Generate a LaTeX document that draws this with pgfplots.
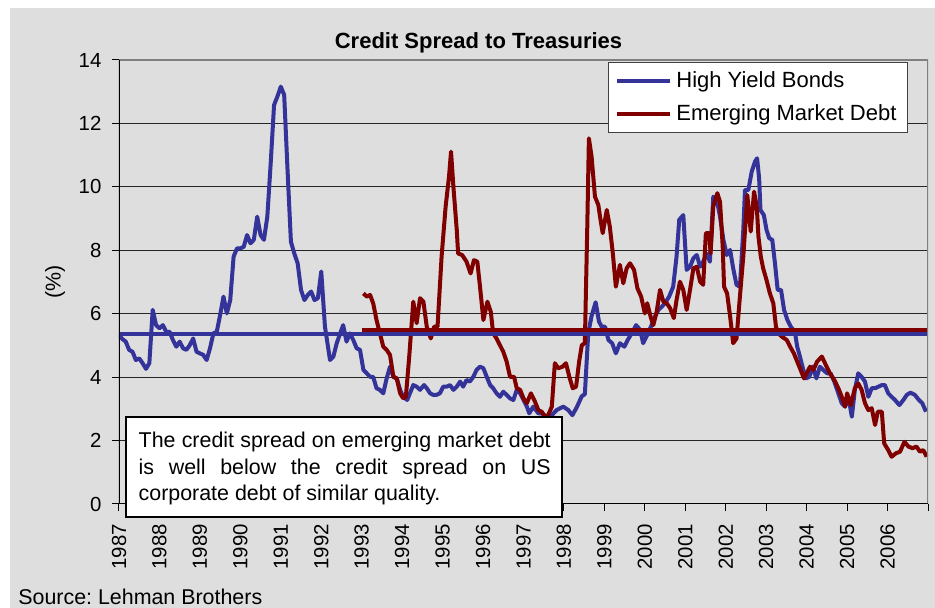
\documentclass[border=0pt]{standalone}
\usepackage{pgfplots}
\pgfplotsset{compat=1.18}
\usepackage{fontspec}
\setmainfont{Liberation Sans}
\frenchspacing
\definecolor{bggray}{RGB}{222,222,222}
\definecolor{hyblue}{RGB}{51,51,153}
\definecolor{emred}{RGB}{128,0,0}
\begin{document}
\begin{tikzpicture}[x=1pt,y=1pt]
\fill[white] (-59.5,-52) rectangle (408,252);
\fill[bggray] (-54.5,-52) rectangle (408,248);
\begin{axis}[
  scale only axis, width=404.5pt, height=222pt,
  xmin=0, xmax=240, ymin=0, ymax=14,
  xtick={0,12,...,240},
  xticklabels={1987,1988,1989,1990,1991,1992,1993,1994,1995,1996,1997,1998,1999,2000,2001,2002,2003,2004,2005,2006,{}},
  ytick={0,2,...,14},
  tick pos=left, tick align=outside, major tick length=3.5pt,
  tick style={black, line width=0.5pt},
  ymajorgrids, grid style={black!85, line width=0.5pt},
  axis line style={draw=none},
  /pgf/number format/assume math mode=true,
  ticklabel style={font=\fontsize{10.2}{12}\selectfont},
  x tick label style={rotate=90, anchor=east},
  xticklabel shift=3pt,
  yticklabel shift=1.75pt,
  legend style={at={(0.6048,0.9948)}, anchor=north west, draw=black!75, line width=0.5pt,
    fill=white, font=\fontsize{11}{13}\selectfont, inner xsep=3.3pt, inner ysep=2.4pt,
    nodes={inner sep=2pt}, row sep=3.2pt, cells={anchor=west}},
  legend cell align=left,
  legend image code/.code={\draw[#1, line width=2pt] (-1pt,0pt) -- (25.5pt,0pt);},
  every axis plot/.append style={line join=round},
]
\addplot[hyblue, line width=2pt] coordinates {
(0,5.33)(1,5.2)(2,5.12)(3,4.86)(4,4.8)(5,4.54)(6,4.59)(7,4.44)(8,4.26)(9,4.44)
(10,6.12)(11,5.64)(12,5.54)(13,5.64)(14,5.43)(15,5.43)(16,5.17)(17,4.96)(18,5.12)(19,4.91)
(20,4.86)(21,5.01)(22,5.22)(23,4.8)(24,4.75)(25,4.7)(26,4.54)(27,4.91)(28,5.38)(29,5.43)
(30,5.96)(31,6.54)(32,6.01)(33,6.43)(34,7.8)(35,8.06)(36,8.06)(37,8.11)(38,8.48)(39,8.22)
(40,8.33)(41,9.06)(42,8.48)(43,8.33)(44,9.06)(45,10.74)(46,12.58)(47,12.85)(48,13.16)(49,12.9)
(50,10.53)(51,8.27)(52,7.9)(53,7.59)(54,6.75)(55,6.43)(56,6.59)(57,6.7)(58,6.43)(59,6.49)
(60,7.33)(61.1,5.59)(62.6,4.54)(63.6,4.65)(64.6,5.07)(65.6,5.38)(66.5,5.64)(67.5,5.12)(68.5,5.38)(69.5,5.17)
(70.5,4.91)(71.5,4.86)(72.5,4.23)(73.5,4.12)(74.5,4.01)(75.4,4.01)(76.4,3.65)(77.4,3.6)(78.4,3.49)(79.4,3.96)
(80.4,4.33)(81.4,4.01)(82.4,3.96)(83.4,3.6)(84.3,3.38)(85.5,3.28)(86.3,3.49)(87.3,3.75)(88.3,3.7)(89.3,3.6)
(90.5,3.75)(91.3,3.65)(92.3,3.49)(93.2,3.44)(94.2,3.44)(95.2,3.49)(96.2,3.7)(97.2,3.7)(98.2,3.75)(99.2,3.6)
(100.2,3.7)(101.2,3.86)(102.1,3.7)(103.1,3.91)(104.1,3.86)(105.1,4.01)(106.1,4.23)(107.1,4.33)(108.1,4.28)(109.1,4.01)
(110.1,3.75)(111,3.65)(112,3.49)(113,3.38)(114,3.54)(115,3.44)(116,3.33)(117,3.28)(118,3.6)(119,3.49)
(120,3.28)(121,3.07)(121.7,2.86)(122.9,3.07)(124.4,2.86)(125.4,2.86)(126.9,2.75)(128.4,2.8)(129.8,2.96)(131.8,3.07)
(133.3,2.96)(134.5,2.8)(135.8,3.05)(137.3,3.4)(138.2,3.46)(139.2,5.38)(140.2,5.93)(141.4,6.36)(142.4,5.75)(143.2,5.59)
(144.2,5.59)(145.2,5.17)(146.3,5.07)(147.4,4.75)(148.6,5.07)(149.9,4.96)(150.9,5.17)(152.1,5.38)(153.4,5.64)(154.6,5.49)
(155.5,5.07)(156.7,5.33)(158,5.64)(159,5.91)(160,6.12)(161,6.22)(162,6.33)(163.2,6.54)(164.4,6.85)(165.4,7.8)
(166.2,8.96)(167.4,9.11)(168.4,7.38)(169.4,7.48)(170.4,7.75)(171.4,7.85)(172.4,7.48)(173.3,7.64)(174.3,7.9)(175.3,7.64)
(176.3,9.69)(177.3,9.59)(178.3,9.06)(179.3,8.33)(180.3,7.85)(181.3,8.01)(182.2,7.43)(183.2,6.91)(184.2,6.85)(185.2,8.64)
(185.7,9.9)(186.7,9.9)(187.7,10.48)(188.7,10.8)(189.3,10.9)(189.9,10.27)(190.3,9.27)(191.3,9.11)(192.1,8.64)(192.9,8.38)
(193.8,8.33)(194.6,7.59)(195.4,6.75)(196.4,6.75)(197.3,6.12)(198.3,5.8)(199.3,5.59)(200.5,5.43)(201.2,4.96)(202,4.65)
(203,4.23)(203.8,3.96)(204.8,4.01)(205.8,4.33)(206.9,3.96)(207.9,4.33)(208.9,4.23)(210.1,4.12)(211.1,4.12)(212.2,3.86)
(213.4,3.49)(214.4,3.18)(215.4,3.07)(216.4,3.38)(217.4,2.75)(218.3,3.6)(219.3,4.12)(220.3,4.01)(221.3,3.86)(222.3,3.38)
(223.3,3.65)(224.3,3.65)(225.3,3.7)(226.3,3.75)(227.2,3.75)(228.2,3.49)(229.2,3.38)(230.2,3.28)(231.5,3.12)(232.7,3.28)
(233.7,3.44)(234.8,3.51)(236.1,3.44)(237.3,3.28)(238.3,3.18)(239.4,2.91)
};
\addlegendentry{High Yield Bonds}
\addplot[emred, line width=2pt] coordinates {
(72.5,6.64)(73.5,6.54)(74.5,6.59)(75.4,6.33)(76.4,5.8)(77.4,5.38)(78.4,4.96)(79.4,4.86)(80.4,4.7)(81.4,4.01)
(82.4,3.96)(83.4,3.49)(84.3,3.33)(85.1,3.38)(86.1,4.65)(87.3,6.38)(88.3,5.7)(89.3,6.49)(90.3,6.38)(91.3,5.59)
(92.5,5.22)(93.5,5.59)(94.5,5.59)(95.7,7.8)(96.9,9.38)(97.9,10.32)(98.5,11.11)(99.2,10.01)(100.2,8.64)(100.6,7.9)
(101.8,7.85)(103.1,7.64)(104.3,7.27)(105.3,7.69)(106.3,7.64)(107.1,6.85)(108.1,5.8)(109.3,6.38)(110.3,6.06)(111,5.38)
(112,5.22)(113,5.01)(114,4.8)(115,4.49)(116,4.01)(117.2,4.01)(118,3.65)(119,3.6)(120,3.33)(121,3.18)
(122.2,3.49)(123.4,3.23)(124.4,2.96)(125.4,2.91)(126.4,2.75)(127.3,2.8)(128.4,3.07)(129.3,4.44)(130.3,4.28)(131.6,4.33)
(132.6,4.44)(133.6,4.01)(134.6,3.65)(135.6,3.7)(136.5,4.49)(137.3,5.01)(138.2,5.07)(138.9,8.64)(139.4,11.53)(140.2,10.95)
(141.2,9.69)(142.2,9.43)(142.7,9.06)(143.5,8.54)(144.7,9.27)(145.6,8.75)(146.5,7.9)(147.4,6.85)(148.6,7.54)(149.6,6.96)
(150.6,7.43)(151.6,7.59)(152.8,7.38)(153.8,6.8)(154.9,6.54)(156,6.01)(156.7,6.33)(157.7,5.91)(158.5,5.64)(159.5,6.06)
(160.5,6.75)(161.5,6.38)(162.5,6.33)(163.5,6.17)(164.6,5.86)(165.4,6.43)(166.4,7.01)(167.4,6.75)(168.4,6.12)(169.4,6.75)
(170.4,7.43)(171.4,7.48)(172.4,7.01)(173.3,6.91)(174.1,8.54)(175.1,8.54)(175.5,7.9)(176.3,9.38)(177.5,9.8)(178.3,9.53)
(179.1,8.11)(179.5,6.85)(180.4,6.64)(181.3,5.91)(182.2,5.07)(183.2,5.22)(184.2,6.54)(185.2,7.8)(186.4,9.74)(187.4,8.59)
(188.4,9.85)(189.2,9.38)(189.7,8.43)(190.4,7.8)(191.1,7.43)(192.1,7.06)(193.1,6.64)(194.1,6.33)(194.9,5.59)(195.6,5.38)
(196.6,5.28)(198.1,5.17)(199.1,4.96)(200.2,4.75)(201.2,4.49)(202.2,4.23)(203.2,3.96)(204,4.12)(205,4.33)(206,4.23)
(207.1,4.49)(208.5,4.65)(209.7,4.38)(210.9,4.12)(212.2,3.91)(213.4,3.65)(214.4,3.38)(215.4,3.07)(216,3.49)(217.1,3.12)
(218.3,3.65)(219.3,3.8)(220.3,3.6)(221.3,3.18)(222.3,2.96)(223.3,3.02)(224.3,2.49)(225.1,2.91)(226.3,2.91)(227,1.91)
(228.2,1.7)(229.2,1.49)(230.5,1.6)(231.7,1.65)(233,1.96)(234.2,1.81)(235.4,1.76)(236.6,1.81)(237.6,1.65)(238.6,1.7)
(239.6,1.49)
};
\addlegendentry{Emerging Market Debt}
\addplot[hyblue, line width=2.2pt, forget plot] coordinates {(0,5.36)(240,5.36)};
\addplot[emred, line width=2.2pt, forget plot] coordinates {(72,5.48)(240,5.48)};
\draw[black!50, line width=1pt] (rel axis cs:0,1) -- (rel axis cs:1,1) -- (rel axis cs:1,0);
\draw[black, line width=0.6pt] (rel axis cs:0,1) -- (rel axis cs:0,0) -- (rel axis cs:1,0);
\end{axis}
\node[anchor=base, font=\bfseries\fontsize{11}{13}\selectfont] at (179.75,227.5) {Credit Spread to Treasuries};
\node[rotate=90, font=\fontsize{10.7}{13}\selectfont] at (-32,111) {(\%)};
\node[anchor=base west, inner sep=0pt, font=\fontsize{10.7}{13}\selectfont] at (-50.5,-50.3) {Source: Lehman Brothers};
\draw[black, line width=1.1pt, fill=white] (3.35,-6.65) rectangle (221.65,43.65);
\begin{scope}[every node/.style={anchor=base west, inner sep=0pt, font=\fontsize{10.7}{13}\selectfont}]
\node at (9.65,28) {\makebox[206pt][s]{The credit spread on emerging market debt}};
\node at (9.65,14.65) {\makebox[206pt][s]{is well below the credit spread on US}};
\node at (9.65,1.65) {corporate debt of similar quality.};
\end{scope}
\end{tikzpicture}
\end{document}
